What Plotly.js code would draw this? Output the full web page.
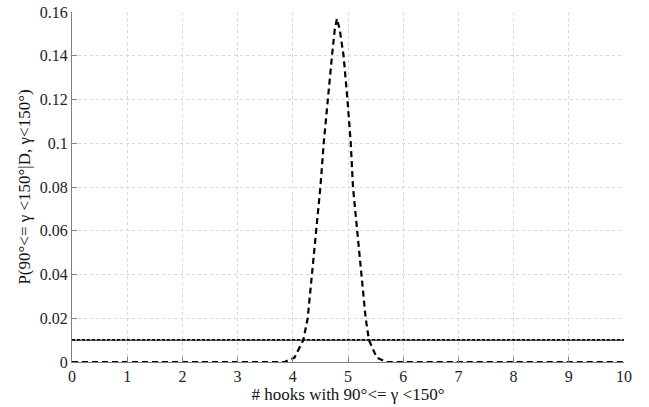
<!DOCTYPE html>
<html>
<head>
<meta charset="utf-8">
<script src="https://cdn.plot.ly/plotly-3.0.1.min.js"></script>
<style>html,body{margin:0;padding:0;background:#fff;}</style>
</head>
<body>
<div id="chart" style="width:649px;height:407px;"></div>
<script>
// Posterior curve (dashed)
const curveX = [0, 1, 2, 3, 3.85, 4.03, 4.19, 4.27, 4.35, 4.43, 4.50, 4.56, 4.63, 4.71, 4.76, 4.80, 4.85, 4.92, 4.99, 5.05, 5.09, 5.17, 5.24, 5.32, 5.38, 5.52, 5.70, 6, 7, 8, 9, 10];
const curveY = [0, 0, 0, 0, 0, 0.002, 0.01, 0.02, 0.04, 0.06, 0.08, 0.10, 0.12, 0.14, 0.152, 0.157, 0.152, 0.14, 0.12, 0.10, 0.08, 0.06, 0.04, 0.02, 0.01, 0.002, 0, 0, 0, 0, 0, 0];
// Flat (uniform) reference level
const flatX = [0, 10];
const flatY = [0.01, 0.01];
const xTicks = [0, 1, 2, 3, 4, 5, 6, 7, 8, 9, 10];
const yTicks = [0, 0.02, 0.04, 0.06, 0.08, 0.1, 0.12, 0.14, 0.16];
const yTickText = ["0", "0.02", "0.04", "0.06", "0.08", "0.1", "0.12", "0.14", "0.16"];

const traces = [
  {x: flatX, y: flatY, mode: 'lines', line: {color: '#000', width: 1}, hoverinfo: 'skip'},
  {x: flatX, y: flatY.map(v => v + 0.0002), mode: 'lines', line: {color: '#000', width: 1.5, dash: '3px,2px'}, hoverinfo: 'skip'},
  {x: curveX, y: curveY, mode: 'lines', line: {color: '#000', width: 2.2, dash: '6px,4px'}, hoverinfo: 'skip'}
];

const fam = 'Times New Roman';
const layout = {
  width: 649, height: 407,
  margin: {l: 72, r: 25, t: 12, b: 45},
  showlegend: false,
  paper_bgcolor: '#fff', plot_bgcolor: '#fff',
  font: {family: fam, size: 16, color: '#222'},
  xaxis: {
    range: [0, 10], tickvals: xTicks, ticktext: xTicks.map(String),
    showgrid: true, gridcolor: '#d8d8d8', griddash: 'dot', gridwidth: 1,
    zeroline: false, showline: true, linecolor: '#808080', linewidth: 1,
    ticks: 'inside', ticklen: 5, tickcolor: '#808080',
    tickfont: {family: fam, size: 16, color: '#222'},
    title: {text: '# hooks with 90°<= γ <150°', font: {family: fam, size: 17, color: '#111'}, standoff: 2}
  },
  yaxis: {
    range: [0, 0.16], tickvals: yTicks, ticktext: yTickText,
    showgrid: true, gridcolor: '#d8d8d8', griddash: 'dot', gridwidth: 1,
    zeroline: false, showline: true, linecolor: '#808080', linewidth: 1,
    ticks: 'inside', ticklen: 5, tickcolor: '#808080',
    tickfont: {family: fam, size: 16, color: '#222'},
    title: {text: 'P(90°<= γ <150°|D, γ<150°)', font: {family: fam, size: 17, color: '#111'}, standoff: 4}
  }
};
Plotly.newPlot('chart', traces, layout, {displayModeBar: false});
</script>
</body>
</html>
